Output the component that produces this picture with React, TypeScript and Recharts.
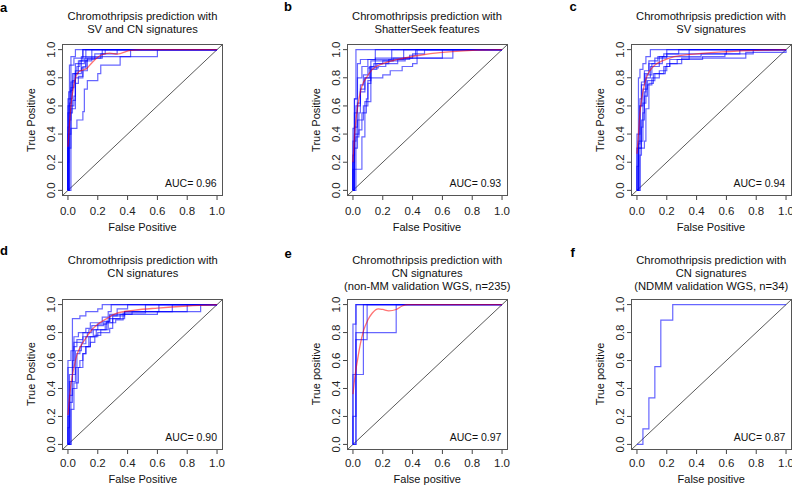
import { LineChart, Line, XAxis, YAxis, ReferenceLine } from 'recharts';

type Pt = [number, number];

// cross-validation ROC curves, each step = [false positive rate, true positive rate reached there]
const rocA: Pt[][] = [
  [[0, 0.2], [0.005, 0.7], [0.02, 0.95], [0.05, 1]],
  [[0, 0.45], [0.01, 0.89], [0.04, 0.94], [0.1, 1]],
  [[0, 0.3], [0.02, 0.6], [0.04, 0.67], [0.05, 0.85], [0.09, 0.95], [0.6, 1]],
  [[0.02, 0.44], [0.06, 0.5], [0.1, 0.56], [0.11, 0.72], [0.13, 0.78], [0.2, 0.83], [0.22, 0.89], [0.35, 0.95], [0.42, 1]],
  [[0.01, 0.5], [0.02, 0.58], [0.05, 0.76], [0.07, 0.81], [0.1, 0.88], [0.12, 0.92], [0.16, 1]],
  [[0, 0.6], [0.02, 0.71], [0.03, 0.78], [0.05, 0.9], [0.11, 0.94], [0.22, 0.97], [0.33, 1]],
  [[0, 0.65], [0.03, 0.83], [0.06, 0.88], [0.08, 0.92], [0.13, 0.94], [0.23, 1]],
  [[0.01, 0.62], [0.02, 0.77], [0.05, 0.83], [0.09, 0.87], [0.12, 1]],
  [[0, 0.55], [0.03, 0.64], [0.05, 0.8], [0.1, 0.85], [0.13, 0.93], [0.18, 0.97], [0.25, 1]],
  [[0, 0.4], [0.02, 0.73], [0.04, 0.83], [0.07, 0.92], [0.1, 1]],
];
const meanA: Pt[] = [
  [0, 0.31], [0.01, 0.47], [0.02, 0.6], [0.04, 0.75], [0.07, 0.84], [0.1, 0.855], [0.125, 0.865],
  [0.155, 0.9], [0.22, 0.96], [0.28, 0.975], [0.33, 0.968], [0.42, 0.995], [0.5, 1], [1, 1],
];

const rocB: Pt[][] = [
  [[0, 0.2], [0.01, 0.65], [0.02, 1]],
  [[0, 0.15], [0.06, 0.38], [0.08, 0.63], [0.12, 0.88], [0.15, 0.94], [0.67, 1]],
  [[0.01, 0.4], [0.04, 0.55], [0.05, 0.7], [0.08, 0.8], [0.11, 0.88], [0.14, 0.9], [0.2, 0.92], [0.27, 0.94], [0.4, 0.97], [0.48, 1]],
  [[0, 0.35], [0.02, 0.6], [0.05, 0.75], [0.07, 0.82], [0.1, 0.87], [0.17, 0.88], [0.22, 0.9], [0.3, 0.93], [0.38, 0.96], [0.42, 1]],
  [[0.01, 0.3], [0.03, 0.5], [0.07, 0.6], [0.1, 0.76], [0.12, 0.8], [0.2, 0.82], [0.25, 0.85], [0.33, 0.88], [0.4, 0.9], [0.43, 1]],
  [[0, 0.44], [0.01, 0.65], [0.03, 0.9], [0.05, 0.93], [0.15, 1]],
  [[0.02, 0.38], [0.04, 0.43], [0.06, 0.55], [0.09, 0.65], [0.1, 0.78], [0.12, 0.86], [0.16, 0.9], [0.24, 0.93], [0.26, 1]],
  [[0, 0.25], [0.01, 0.45], [0.03, 0.62], [0.05, 0.72], [0.08, 0.8], [0.12, 0.92], [0.35, 0.94], [0.6, 1]],
  [[0.01, 0.55], [0.03, 0.8], [0.06, 0.88], [0.1, 0.93], [0.34, 1]],
];
const meanB: Pt[] = [
  [0, 0.2], [0.01, 0.38], [0.02, 0.5], [0.04, 0.65], [0.06, 0.74], [0.09, 0.8], [0.13, 0.86],
  [0.2, 0.9], [0.3, 0.93], [0.45, 0.96], [0.6, 0.98], [0.8, 0.995], [1, 1],
];

const rocC: Pt[][] = [
  [[0, 0.17], [0.01, 0.8], [0.02, 0.86], [0.04, 0.9], [0.06, 0.95], [0.09, 1]],
  [[0.01, 0.3], [0.02, 0.6], [0.03, 0.75], [0.05, 0.83], [0.08, 0.9], [0.12, 0.94], [0.2, 1]],
  [[0.02, 0.25], [0.03, 0.5], [0.05, 0.7], [0.06, 0.8], [0.09, 0.88], [0.15, 0.95], [0.2, 0.97], [0.6, 1]],
  [[0.01, 0.35], [0.04, 0.55], [0.05, 0.67], [0.07, 0.75], [0.1, 0.8], [0.15, 0.85], [0.19, 0.88], [0.22, 0.9], [0.3, 0.94], [0.73, 0.97], [0.78, 1]],
  [[0, 0.3], [0.03, 0.45], [0.04, 0.62], [0.06, 0.72], [0.07, 0.78], [0.12, 0.83], [0.18, 0.88], [0.22, 0.93], [0.44, 0.95], [0.59, 0.97], [0.69, 1]],
  [[0.02, 0.3], [0.05, 0.35], [0.06, 0.58], [0.08, 0.76], [0.11, 0.83], [0.19, 0.85], [0.2, 0.9], [0.27, 0.93], [0.35, 1]],
  [[0, 0.4], [0.02, 0.65], [0.03, 0.77], [0.05, 0.85], [0.08, 0.92], [0.14, 0.95], [0.18, 0.97], [0.28, 1]],
  [[0.01, 0.33], [0.02, 0.6], [0.04, 0.72], [0.06, 0.82], [0.1, 0.9], [0.17, 0.95], [0.43, 0.97], [0.73, 0.98]],
];
const meanC: Pt[] = [
  [0, 0.26], [0.01, 0.4], [0.02, 0.55], [0.04, 0.7], [0.06, 0.79], [0.08, 0.84], [0.12, 0.89],
  [0.17, 0.92], [0.25, 0.95], [0.4, 0.97], [0.6, 0.985], [0.8, 0.995], [1, 1],
];

const rocD: Pt[][] = [
  [[0, 0.2], [0.01, 0.5], [0.03, 0.9], [0.08, 0.92], [0.12, 0.95], [0.2, 0.97], [0.23, 1]],
  [[0.01, 0.45], [0.03, 0.6], [0.04, 0.77], [0.07, 0.8], [0.12, 0.83], [0.15, 0.87], [0.23, 0.91], [0.27, 0.95], [0.29, 1]],
  [[0, 0.6], [0.02, 0.67], [0.04, 0.73], [0.1, 0.8], [0.14, 0.82], [0.2, 0.86], [0.26, 0.88], [0.28, 0.93], [0.43, 0.95], [0.89, 0.97], [0.89, 1]],
  [[0.02, 0.25], [0.04, 0.44], [0.07, 0.55], [0.1, 0.65], [0.12, 0.7], [0.15, 0.73], [0.18, 0.78], [0.22, 0.82], [0.27, 0.9], [0.35, 0.93], [0.6, 0.95], [0.8, 0.97], [0.8, 1]],
  [[0, 0.12], [0.01, 0.35], [0.03, 0.5], [0.05, 0.67], [0.09, 0.72], [0.12, 0.77], [0.17, 0.82], [0.25, 0.87], [0.3, 0.9], [0.38, 0.95], [0.7, 0.97], [0.7, 1]],
  [[0.02, 0.45], [0.05, 0.55], [0.08, 0.6], [0.1, 0.65], [0.12, 0.7], [0.15, 0.77], [0.2, 0.8], [0.28, 0.83], [0.3, 0.92], [0.38, 0.95], [0.61, 0.97], [0.61, 1]],
  [[0, 0.55], [0.04, 0.7], [0.06, 0.75], [0.1, 0.77], [0.13, 0.8], [0.16, 0.85], [0.24, 0.88], [0.28, 0.92], [0.33, 0.97], [0.4, 1]],
  [[0.01, 0.3], [0.03, 0.4], [0.06, 0.65], [0.08, 0.7], [0.14, 0.77], [0.19, 0.82], [0.26, 0.87], [0.32, 0.89], [0.37, 0.94], [0.52, 1]],
];
const meanD: Pt[] = [
  [0, 0.21], [0.01, 0.33], [0.02, 0.43], [0.04, 0.55], [0.06, 0.64], [0.09, 0.71], [0.12, 0.76],
  [0.16, 0.82], [0.2, 0.86], [0.26, 0.9], [0.32, 0.935], [0.45, 0.96], [0.6, 0.975], [0.8, 0.99], [1, 1],
];

const rocE: Pt[][] = [
  [[0, 0.86], [0.02, 1]],
  [[0.02, 1]],
  [[0, 0.5], [0.07, 1]],
  [[0, 0.2], [0.02, 0.8], [0.29, 1]],
  [[0.02, 0.75], [0.095, 1]],
];
const meanE: Pt[] = [
  [0, 0.36], [0.015, 0.5], [0.03, 0.6], [0.05, 0.72], [0.07, 0.81], [0.1, 0.89], [0.13, 0.94],
  [0.17, 0.97], [0.2, 0.965], [0.24, 0.955], [0.29, 0.965], [0.33, 0.99], [0.37, 1], [1, 1],
];

const rocF: Pt[][] = [
  [[0.04, 0.111], [0.08, 0.333], [0.12, 0.556], [0.16, 0.889], [0.24, 1]],
];

const aucValues = ['0.96', '0.93', '0.94', '0.90', '0.97', '0.87'];
const panelLetters = ['a', 'b', 'c', 'd', 'e', 'f'];
const panelTitles = [
  ['Chromothripsis prediction with', 'SV and CN signatures'],
  ['Chromothripsis prediction with', 'ShatterSeek features'],
  ['Chromothripsis prediction with', 'SV signatures'],
  ['Chromothripsis prediction with', 'CN signatures'],
  ['Chromothripsis prediction with', 'CN signatures', '(non-MM validation WGS, n=235)'],
  ['Chromothripsis prediction with', 'CN signatures', '(NDMM validation WGS, n=34)'],
];
const xLabels = ['False Positive', 'False Positive', 'False Positive', 'False Positive', 'False positive', 'False positive'];
const yLabels = ['True Positive', 'True Positive', 'True Positive', 'True Positive', 'True positive', 'True positive'];

const TICKS = [0, 0.2, 0.4, 0.6, 0.8, 1];
const DOMAIN: [number, number] = [-0.04, 1.04];
const FONT = '"Liberation Sans", Arial, Helvetica, sans-serif';
const BOX_W = 161;

function stepPoints(steps: Pt[]) {
  const pts = [{ x: 0, y: 0 }];
  let prev = 0;
  for (const [x, y] of steps) {
    pts.push({ x, y: prev });
    pts.push({ x, y });
    prev = y;
  }
  pts.push({ x: 1, y: prev });
  if (prev < 1) pts.push({ x: 1, y: 1 });
  return pts;
}

const XTick = (p: any) => (
  <text x={p.x} y={p.y} dy="0.75em" textAnchor="middle" fontSize={11.5} fill="#222" fontFamily={FONT}>
    {Number(p.payload.value).toFixed(1)}
  </text>
);

const YTick = (p: any) => (
  <text x={p.x} y={p.y} transform={`rotate(-90 ${p.x} ${p.y})`} textAnchor="middle" fontSize={11.5} fill="#222" fontFamily={FONT}>
    {Number(p.payload.value).toFixed(1)}
  </text>
);

function RocPanel({ left, top, height, curves, mean, tickGap }: { left: number; top: number; height: number; curves: Pt[][]; mean?: Pt[]; tickGap: number }) {
  return (
    <div style={{ position: 'absolute', left: left - 40, top: top - 10 }}>
      <LineChart width={BOX_W + 50} height={height + 40} margin={{ top: 10, right: 10, bottom: 0, left: 0 }}>
        <XAxis type="number" dataKey="x" domain={DOMAIN} ticks={TICKS} allowDataOverflow axisLine={false}
          tickLine={{ stroke: '#444' }} tickSize={4} tickMargin={tickGap} tick={XTick} height={30} />
        <YAxis type="number" dataKey="y" domain={DOMAIN} ticks={TICKS} allowDataOverflow axisLine={false}
          tickLine={{ stroke: '#444' }} tickSize={4} tickMargin={3} tick={YTick} width={40} />
        <ReferenceLine segment={[{ x: -0.04, y: -0.04 }, { x: 1.04, y: 1.04 }]} stroke="#111" strokeWidth={0.7} />
        {curves.map((c, i) => (
          <Line key={i} data={stepPoints(c)} dataKey="y" type="linear" stroke="#0000ff" strokeOpacity={0.6}
            strokeWidth={1.2} dot={false} activeDot={false} isAnimationActive={false} />
        ))}
        {mean && (
          <Line data={mean.map(([x, y]) => ({ x, y }))} dataKey="y" type="monotone" stroke="#ff0000"
            strokeOpacity={0.55} strokeWidth={1.3} dot={false} activeDot={false} isAnimationActive={false} />
        )}
      </LineChart>
    </div>
  );
}

const layout = [
  { left: 62, top: 44, height: 152, curves: rocA, mean: meanA, tickGap: 6 },
  { left: 346.5, top: 44, height: 152, curves: rocB, mean: meanB, tickGap: 6 },
  { left: 630.5, top: 44, height: 152, curves: rocC, mean: meanC, tickGap: 6 },
  { left: 62.3, top: 298.5, height: 151, curves: rocD, mean: meanD, tickGap: 4 },
  { left: 346.7, top: 298.5, height: 151, curves: rocE, mean: meanE, tickGap: 4 },
  { left: 630.7, top: 298.5, height: 151, curves: rocF, tickGap: 4 },
];
const letterPos = [[0, 11.7], [284, 11], [569.5, 11], [0, 255], [284.5, 258.3], [570.5, 256.7]];

export default function App() {
  return (
    <div style={{ position: 'absolute', left: 0, top: 0, width: 792, height: 487, background: '#fff', overflow: 'hidden' }}>
      {layout.map((p, i) => <RocPanel key={i} {...p} />)}
      <svg width={792} height={487} style={{ position: 'absolute', left: 0, top: 0, pointerEvents: 'none' }} fontFamily={FONT}>
        {layout.map((p, i) => {
          const cx = p.left + BOX_W / 2;
          const cy = p.top + p.height / 2;
          const titleBase = i < 3 ? 20 : 264.3;
          const xLabBase = i < 3 ? 230.5 : 483.3;
          return (
            <g key={i}>
              {/* plot frame around the chart's plotting region */}
              <rect x={Math.round(p.left) + 0.5} y={Math.round(p.top) + 0.5} width={BOX_W - 1} height={Math.round(p.height) - 1}
                fill="none" stroke="#555" strokeWidth={1} />
              <text x={letterPos[i][0]} y={letterPos[i][1]} fontSize={13} fontWeight="bold" fill="#000">{panelLetters[i]}</text>
              {panelTitles[i].map((t, j) => (
                <text key={j} x={cx} y={titleBase + j * 12.7} fontSize={11.2} textAnchor="middle" fill="#111">{t}</text>
              ))}
              <text x={cx} y={xLabBase} fontSize={11} textAnchor="middle" fill="#111">{xLabels[i]}</text>
              <text x={p.left - 27} y={cy} fontSize={11} textAnchor="middle" fill="#111"
                transform={`rotate(-90 ${p.left - 27} ${cy})`}>{yLabels[i]}</text>
              <text x={p.left + BOX_W - 6.3} y={p.top + p.height - 9} fontSize={10.5} textAnchor="end" fill="#111">
                AUC= {aucValues[i]}
              </text>
            </g>
          );
        })}
      </svg>
    </div>
  );
}
